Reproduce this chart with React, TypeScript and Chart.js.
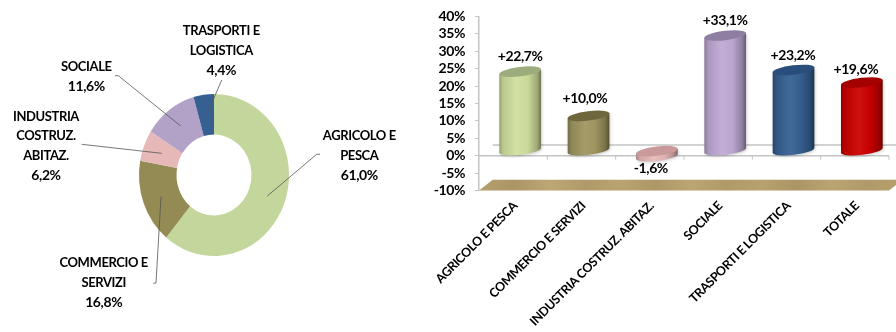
import React, { useEffect, useRef } from "react";
import { Chart, registerables } from "chart.js";

Chart.register(...registerables);

// Share of each sector (ring, clockwise from twelve o'clock)
const shareSectors = ["AGRICOLO E PESCA", "COMMERCIO E SERVIZI", "INDUSTRIA COSTRUZ. ABITAZ.", "SOCIALE", "TRASPORTI E LOGISTICA"];
const shareValues = [61.0, 16.8, 6.2, 11.6, 4.4];
const shareColors = ["#c3d69b", "#948a54", "#e6b9b8", "#b3a2c7", "#366092"];

// Yearly change per sector (cylinders)
const changeCategories = ["AGRICOLO E PESCA", "COMMERCIO E SERVIZI", "INDUSTRIA COSTRUZ. ABITAZ.", "SOCIALE", "TRASPORTI E LOGISTICA", "TOTALE"];
const changeValues = [22.7, 10.0, -1.6, 33.1, 23.2, 19.6];
const bodyColors = ["#d0e09e", "#a09660", "#e6b9b8", "#bfa9d4", "#366092", "#cc0000"];
const capColors = ["#9cac7c", "#6e673e", "#c99a99", "#8e7fa2", "#2a4e7b", "#a40000"];

const FONT = "Lato, 'Open Sans', sans-serif";
const LABEL_FONT = `bold 13px ${FONT}`;
const NUMBER_FONT = `bold 14px ${FONT}`;
const TIGHT = "-0.4px";

const comma = (v: number) => v.toFixed(1).replace(".", ",");

// Callouts of the ring: wrapped label lines, text centre, first row and leader polyline
const callouts = [
  { lines: ["AGRICOLO E", "PESCA"], x: 359.3, y: 136, leader: [[320, 154.3], [316.7, 154.3], [267.3, 196]] },
  { lines: ["COMMERCIO E", "SERVIZI"], x: 103.7, y: 263.3, leader: [[153.3, 283.3], [156, 283], [161, 196.7]] },
  { lines: ["INDUSTRIA", "COSTRUZ.", "ABITAZ."], x: 46, y: 116.7, leader: [[81.7, 144.3], [161.7, 153.3]] },
  { lines: ["SOCIALE"], x: 86.3, y: 66.7, leader: [[115, 75.7], [118.3, 75.7], [180.7, 126]] },
  { lines: ["TRASPORTI E", "LOGISTICA"], x: 221.3, y: 31.3, leader: [[221.7, 80], [206.7, 115]] },
];
const LINE_STEP = 19.5;

// Offsets of the value labels from the top of each cylinder
const valueLabelShift = [[0, -20], [-3.5, -22], [-6, 7.5], [0, -20], [-0.5, -19.5], [-6, -18]];

// Oblique depth of the plot box
const DEPTH_X = 13.7;
const DEPTH_Y = 10.7;
// Cylinders stand halfway into the box
const BAR_DX = 7;
const BAR_DY = 5;
const CAP_RY = 4.7;
const CAP_TILT = (-7 * Math.PI) / 180;

const GREY = "#c4c4c4";

const floorBands = ["#b6a06d", "#ab9565", "#bda775", "#b09a69", "#b9a370", "#ad9766", "#bba573", "#b09a68", "#b7a16e", "#ab9565", "#baa472", "#b09a69", "#b5a06d"];

function shade(hex: string, f: number) {
  const n = parseInt(hex.slice(1), 16);
  const ch = [(n >> 16) & 255, (n >> 8) & 255, n & 255].map((c) =>
    Math.max(0, Math.min(255, Math.round(f > 1 ? c + (255 - c) * (f - 1) : c * f)))
  );
  return `rgb(${ch[0]},${ch[1]},${ch[2]})`;
}

const ringOval = {
  id: "ringOval",
  beforeDatasetsDraw(chart: any) {
    const { ctx } = chart;
    const { x, y } = chart.getDatasetMeta(0).data[0];
    ctx.save();
    ctx.translate(x, y);
    ctx.scale(1, 1.08);
    ctx.translate(-x, -y);
  },
  afterDatasetsDraw(chart: any) {
    chart.ctx.restore();
  },
  afterDraw(chart: any) {
    const { ctx } = chart;
    ctx.save();
    ctx.strokeStyle = "#555";
    ctx.lineWidth = 0.8;
    callouts.forEach((c) => {
      ctx.beginPath();
      c.leader.forEach(([px, py], i) => (i ? ctx.lineTo(px, py) : ctx.moveTo(px, py)));
      ctx.stroke();
    });
    ctx.fillStyle = "#000";
    ctx.letterSpacing = TIGHT;
    ctx.textAlign = "center";
    ctx.textBaseline = "middle";
    callouts.forEach((c, i) => {
      ctx.font = LABEL_FONT;
      c.lines.forEach((t, j) => ctx.fillText(t, c.x, c.y + j * LINE_STEP));
      ctx.font = NUMBER_FONT;
      ctx.fillText(`${comma(shareValues[i])}%`, c.x, c.y + c.lines.length * LINE_STEP);
    });
    ctx.restore();
  },
};

const box3d = {
  id: "box3d",
  beforeDraw(chart: any) {
    chart.ctx.letterSpacing = TIGHT;
  },
  beforeDatasetsDraw(chart: any) {
    const { ctx, scales } = chart;
    const yZero = scales.y.getPixelForValue(0);
    const yFloor = scales.y.getPixelForValue(-10);
    const { left, right } = chart.chartArea;
    ctx.save();

    // Wooden floor
    const floorGrad = ctx.createLinearGradient(left, 0, right + DEPTH_X, 0);
    floorBands.forEach((col, i) => floorGrad.addColorStop(i / (floorBands.length - 1), col));
    ctx.fillStyle = floorGrad;
    ctx.beginPath();
    ctx.moveTo(left, yFloor);
    ctx.lineTo(left + DEPTH_X, yFloor - DEPTH_Y);
    ctx.lineTo(right + DEPTH_X, yFloor - DEPTH_Y);
    ctx.lineTo(right, yFloor);
    ctx.closePath();
    ctx.fill();

    // Zero line on the back wall, then on the front edge with its category ticks
    ctx.strokeStyle = GREY;
    ctx.lineWidth = 1.5;
    ctx.beginPath();
    ctx.moveTo(left + DEPTH_X, yZero - DEPTH_Y);
    ctx.lineTo(right + DEPTH_X, yZero - DEPTH_Y);
    ctx.moveTo(left, yZero);
    ctx.lineTo(right, yZero);
    ctx.stroke();
    ctx.lineWidth = 1;
    ctx.beginPath();
    const step = (right - left) / changeCategories.length;
    for (let i = 1; i <= changeCategories.length; i++) {
      const x = left + step * i;
      ctx.moveTo(x, yZero);
      ctx.lineTo(x, yZero + 4);
    }
    ctx.stroke();
    ctx.restore();
  },
  afterDatasetsDraw(chart: any) {
    const { ctx } = chart;
    const bars = chart.getDatasetMeta(0).data;
    ctx.save();
    bars.forEach((bar: any, i: number) => {
      const cx = bar.x + BAR_DX;
      const rx = bar.width / 2;
      const yEnd = bar.y - BAR_DY;
      const yStart = bar.base - BAR_DY;
      const upper = Math.min(yEnd, yStart);
      const lower = Math.max(yEnd, yStart);
      const dx = rx * Math.cos(CAP_TILT);
      const dy = rx * Math.sin(CAP_TILT);

      const body = ctx.createLinearGradient(cx - rx, 0, cx + rx, 0);
      [[0, 0.72], [0.1, 0.9], [0.42, 1.06], [0.68, 0.97], [0.9, 0.76], [1, 0.52]].forEach(([p, f]) =>
        body.addColorStop(p, shade(bodyColors[i], f))
      );

      ctx.save();
      ctx.shadowColor = "rgba(0,0,0,0.2)";
      ctx.shadowBlur = 3;
      ctx.shadowOffsetX = 1;
      ctx.shadowOffsetY = 1;
      ctx.fillStyle = body;
      ctx.beginPath();
      ctx.moveTo(cx - dx, upper - dy);
      ctx.ellipse(cx, lower, rx, CAP_RY, CAP_TILT, Math.PI, 0, true);
      ctx.lineTo(cx + dx, upper + dy);
      ctx.closePath();
      ctx.fill();
      ctx.restore();

      ctx.fillStyle = capColors[i];
      ctx.beginPath();
      ctx.ellipse(cx, upper, rx, CAP_RY, CAP_TILT, 0, Math.PI * 2);
      ctx.fill();

      const v = changeValues[i];
      ctx.fillStyle = "#000";
      ctx.font = NUMBER_FONT;
      ctx.textAlign = "center";
      ctx.textBaseline = "middle";
      const [sx, sy] = valueLabelShift[i];
      ctx.fillText(`${v > 0 ? "+" : ""}${comma(v)}%`, cx + sx, bar.y + sy);
    });
    ctx.restore();
  },
};

export default function App() {
  const ringRef = useRef<HTMLCanvasElement>(null);
  const barRef = useRef<HTMLCanvasElement>(null);

  useEffect(() => {
    const ring = new Chart(ringRef.current!, {
      type: "doughnut",
      data: {
        labels: shareSectors,
        datasets: [{ data: shareValues, backgroundColor: shareColors, borderWidth: 0, clip: false }],
      },
      options: {
        animation: false,
        responsive: false,
        cutout: "50%",
        layout: { padding: { left: 139, right: 131, top: 100, bottom: 82 } },
        plugins: { legend: { display: false }, tooltip: { enabled: false } },
      },
      plugins: [ringOval],
    } as any);

    const bars = new Chart(barRef.current!, {
      type: "bar",
      data: {
        labels: changeCategories,
        datasets: [
          {
            data: changeValues,
            backgroundColor: "rgba(0,0,0,0)",
            borderWidth: 0,
            barPercentage: 0.615,
            categoryPercentage: 1,
          },
        ],
      },
      options: {
        animation: false,
        responsive: false,
        layout: { padding: { top: 16.5, right: 7, left: 0, bottom: 0 } },
        plugins: { legend: { display: false }, tooltip: { enabled: false } },
        scales: {
          x: {
            grid: { display: false },
            border: { display: false },
            ticks: {
              autoSkip: false,
              minRotation: 45,
              maxRotation: 45,
              padding: 0,
              labelOffset: 2,
              color: "#000",
              font: { family: FONT, size: 12.5, weight: "bold" },
            },
            afterFit(scale: any) {
              scale.height = 141.5;
              scale.paddingLeft = 0;
              scale.paddingRight = 0;
            },
          },
          y: {
            min: -10,
            max: 40,
            grid: { drawOnChartArea: false, tickLength: 4, color: GREY },
            border: { color: GREY, width: 1.5 },
            ticks: {
              autoSkip: false,
              stepSize: 5,
              padding: 10,
              color: "#000",
              font: { family: FONT, size: 14, weight: "bold" },
              callback: (v: any) => `${v}%`,
            },
            afterFit(scale: any) {
              scale.width = 59;
              scale.paddingTop = 0;
              scale.paddingBottom = 0;
            },
          },
        },
      },
      plugins: [box3d],
    } as any);

    return () => {
      ring.destroy();
      bars.destroy();
    };
  }, []);

  return (
    <div style={{ position: "fixed", left: 0, top: 0, width: 896, height: 332, background: "#fff", overflow: "hidden" }}>
      <canvas ref={ringRef} width={420} height={332} style={{ position: "absolute", left: 0, top: 0, width: 420, height: 332 }} />
      <canvas ref={barRef} width={476} height={332} style={{ position: "absolute", left: 420, top: 0, width: 476, height: 332 }} />
    </div>
  );
}
